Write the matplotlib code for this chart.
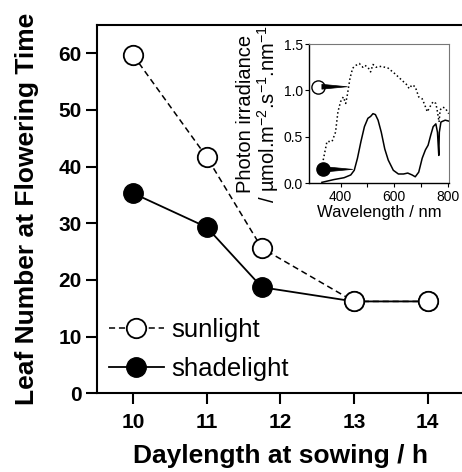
import numpy as np
import matplotlib
matplotlib.use("Agg")
import matplotlib.pyplot as plt

plt.rcParams['font.family'] = ['Liberation Sans', 'DejaVu Sans']
plt.rcParams['mathtext.fontset'] = 'custom'
plt.rcParams['mathtext.rm'] = 'Liberation Sans'
plt.rcParams['mathtext.it'] = 'Liberation Sans'

# Main panel: leaf number vs daylength
daylength = [10, 11, 11.75, 13, 14]
sunlight = [59.7, 41.7, 25.6, 16.2, 16.2]
shadelight = [35.3, 29.3, 18.7, 16.2, 16.2]

# Inset: spectra (wavelength nm, photon irradiance)
sun_wl = [335, 349, 368, 381, 390, 400, 410, 419, 425, 435, 445, 457, 470, 483, 491,
          502, 512, 521, 533, 552, 578, 603, 629, 648, 656, 667, 679, 692, 705, 715,
          724, 733, 746, 756, 762, 768, 772, 781, 791, 804]
sun_irr = [0.25, 0.45, 0.45, 0.55, 0.77, 0.88, 0.93, 0.86, 0.95, 1.13, 1.24, 1.27, 1.29, 1.25, 1.27,
           1.25, 1.20, 1.28, 1.25, 1.26, 1.24, 1.18, 1.11, 1.06, 1.02, 1.06, 1.04, 0.93, 0.91, 0.84,
           0.77, 0.82, 0.88, 0.86, 0.77, 0.66, 0.79, 0.82, 0.81, 0.75]
shade_wl = [330, 375, 413, 438, 451, 463, 476, 489, 502, 512, 521, 530, 540, 552, 565,
            578, 597, 616, 635, 651, 667, 679, 692, 705, 717, 727, 737, 746, 756, 762,
            765, 767, 769, 775, 791, 804]
shade_irr = [0.01, 0.04, 0.06, 0.09, 0.14, 0.27, 0.45, 0.61, 0.70, 0.72, 0.75, 0.74, 0.68, 0.55, 0.37,
             0.25, 0.14, 0.10, 0.10, 0.11, 0.09, 0.07, 0.12, 0.27, 0.36, 0.41, 0.52, 0.61, 0.64, 0.55,
             0.40, 0.30, 0.55, 0.66, 0.68, 0.67]

fig = plt.figure(figsize=(4.62, 4.72), dpi=100)
ax = fig.add_axes([0.21, 0.167, 0.795, 0.78])

ax.plot(daylength, shadelight, '-', color='black', lw=1.3, marker='o', ms=14,
        mfc='black', mec='black', label='shadelight', zorder=2)
ax.plot(daylength, sunlight, '--', color='black', lw=1.1, marker='o', ms=14,
        mfc='white', mec='black', mew=1.3, dashes=(4, 2.5), label='sunlight', zorder=3)

ax.set_xlim(9.51, 14.5)
ax.set_ylim(0, 65)
ax.set_xticks([10, 11, 12, 13, 14])
ax.set_yticks([0, 10, 20, 30, 40, 50, 60])
ax.tick_params(direction='out', length=8, width=1.5, labelsize=15)
ax.tick_params(axis='y', pad=3)
ax.tick_params(axis='x', pad=6)
for lab in ax.get_xticklabels() + ax.get_yticklabels():
    lab.set_fontweight('bold')
for s in ax.spines.values():
    s.set_linewidth(1.5)
ax.set_xlabel('Daylength at sowing / h', fontsize=19, fontweight='bold', labelpad=9)
ax.set_ylabel('Leaf Number at Flowering Time', fontsize=19, fontweight='bold', labelpad=14)

handles, labels = ax.get_legend_handles_labels()
leg = ax.legend(handles[::-1], labels[::-1], loc='lower left', bbox_to_anchor=(-0.01, -0.01),
                frameon=False, fontsize=18.5, handlelength=2.15, handletextpad=0.27,
                labelspacing=0.6, borderaxespad=0.2)

# Inset
ins = fig.add_axes([0.6695, 0.6117, 0.3017, 0.295])
ins.set_facecolor('white')
ins.plot(sun_wl, sun_irr, ':', color='black', lw=1.1)
ins.plot(shade_wl, shade_irr, '-', color='black', lw=1.1)
ins.set_xlim(283, 804)
ins.set_ylim(0, 1.5)
ins.set_xticks([400, 600, 800])
ins.set_xticks([500, 700], minor=True)
ins.set_yticks([0.0, 0.5, 1.0, 1.5])
ins.set_yticklabels(['0.0', '0.5', '1.0', '1.5'])
ins.tick_params(which='both', direction='out', length=3, width=0.8, labelsize=10, pad=1.5)
for side in ['left', 'bottom']:
    ins.spines[side].set_linewidth(1.0)
for side in ['top', 'right']:
    ins.spines[side].set_color('#777777')
    ins.spines[side].set_linewidth(0.8)
ins.set_xlabel('Wavelength / nm', fontsize=12, labelpad=1)
ins.set_ylabel('Photon irradiance\n/ \u00b5mol.m$^{-2}$.s$^{-1}$.nm$^{-1}$', fontsize=14.5,
               labelpad=2, linespacing=1.0)

ins.plot([317], [1.04], 'o', ms=9.5, mfc='white', mec='black', mew=1.0, clip_on=False)
ins.plot([336], [0.15], 'o', ms=9.5, mfc='black', mec='black', clip_on=False)
ins.annotate('', xy=(425, 1.04), xytext=(330, 1.04),
             arrowprops=dict(arrowstyle='wedge,tail_width=0.35', color='black', lw=0.5,
                             shrinkA=0, shrinkB=0), annotation_clip=False)
ins.annotate('', xy=(445, 0.15), xytext=(348, 0.15),
             arrowprops=dict(arrowstyle='wedge,tail_width=0.35', color='black', lw=0.5,
                             shrinkA=0, shrinkB=0), annotation_clip=False)

fig.savefig('out.png', dpi=100)
